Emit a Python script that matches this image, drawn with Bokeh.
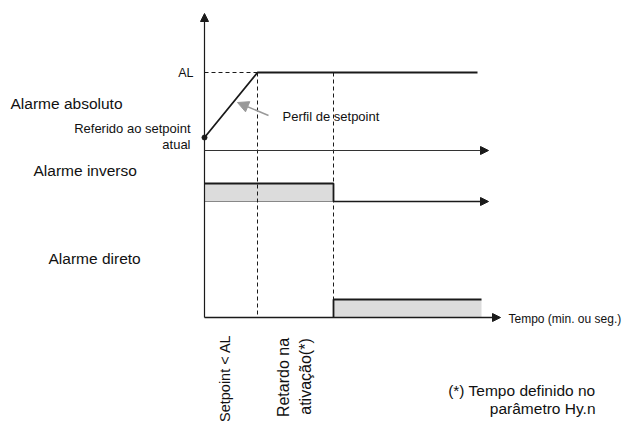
import math
from bokeh.plotting import figure
from bokeh.models import Range1d, Arrow, NormalHead, Label
from bokeh.embed import file_html
from bokeh.resources import INLINE

# ---- diagram data (x = time units from origin, y = level units above time axis) ----
sp_time = [0, 53, 273]          # setpoint profile: start, reaches AL, end
sp_level = [180, 245, 245]      # referred to current setpoint -> AL
al_level = 245
t_reach = 53                    # setpoint reaches AL
t_delay = 129                   # end of activation delay (Hy.n)

abs_axis_level = 167
abs_axis_end = 284

inv_time = [0, 129, 129]
inv_level = [134, 134, 116]
inv_low = 116
inv_end = 284

dir_time = [129, 129, 277]
dir_level = [0, 18, 18]
dir_box = (129, 277, 0, 18)
time_axis_end = 296
v_axis_top = 304

FONT = "Liberation Sans"

p = figure(width=625, height=421, output_backend="svg", toolbar_location=None,
           x_range=Range1d(-204, 421), y_range=Range1d(-104, 317),
           x_axis_type=None, y_axis_type=None, min_border=0)
p.outline_line_color = None
p.xgrid.visible = False
p.ygrid.visible = False
p.background_fill_color = "white"

BLACK = "#1a1a1a"
GRAY_FILL = "#dcdcdc"

# filled boxes
p.quad(left=[inv_time[0]], right=[inv_time[1]], bottom=[inv_low], top=[inv_level[0]],
       fill_color=GRAY_FILL, line_color=None)
p.quad(left=[dir_box[0]], right=[dir_box[1]], bottom=[dir_box[2]], top=[dir_box[3]],
       fill_color=GRAY_FILL, line_color=None)
# thin bottom of inverse box
p.line([inv_time[0], inv_time[1]], [inv_low, inv_low], line_color="#888888", line_width=1)

# dashed guides
p.segment(x0=[0], y0=[al_level], x1=[t_reach], y1=[al_level], line_color=BLACK,
          line_width=1, line_dash="4 3")
p.segment(x0=[t_reach, t_delay], y0=[al_level, al_level], x1=[t_reach, t_delay],
          y1=[0, dir_level[1]], line_color=BLACK, line_width=1, line_dash="4 3")

# vertical axis
p.add_layout(Arrow(x_start=0, y_start=0, x_end=0, y_end=v_axis_top, line_color=BLACK,
                   line_width=1.2,
                   end=NormalHead(size=8, fill_color=BLACK, line_color=BLACK)))
# absolute alarm time axis
p.add_layout(Arrow(x_start=0, y_start=abs_axis_level, x_end=abs_axis_end, y_end=abs_axis_level,
                   line_color="#333333", line_width=1,
                   end=NormalHead(size=8, fill_color=BLACK, line_color=BLACK)))
# inverse alarm signal
p.line(inv_time, inv_level, line_color=BLACK, line_width=1.8)
p.add_layout(Arrow(x_start=inv_time[-1], y_start=inv_low, x_end=inv_end, y_end=inv_low,
                   line_color=BLACK, line_width=1.5,
                   end=NormalHead(size=8, fill_color=BLACK, line_color=BLACK)))
# direct alarm: time axis and signal
p.add_layout(Arrow(x_start=0, y_start=0, x_end=time_axis_end, y_end=0,
                   line_color=BLACK, line_width=1.5,
                   end=NormalHead(size=8, fill_color=BLACK, line_color=BLACK)))
p.line(dir_time, dir_level, line_color=BLACK, line_width=1.8)

# setpoint profile
p.line(sp_time, sp_level, line_color=BLACK, line_width=1.8)
p.scatter([sp_time[0]], [sp_level[0]], size=5, color=BLACK)

# gray pointer arrow
p.add_layout(Arrow(x_start=64, y_start=202, x_end=33, y_end=215,
                   line_color="#999999", line_width=1.5,
                   end=NormalHead(size=11, fill_color="#999999", line_color="#999999")))

def lab(text, x, y, size, align="left", angle=0.0):
    p.add_layout(Label(x=x - 204, y=317 - y, text=text, text_font=FONT,
                       text_font_size=size, text_align=align, text_baseline="middle",
                       text_color="#111111", angle=angle))

lab("AL", 193, 72, "12.5px", "right")
lab("Alarme absoluto", 10, 103, "15.5px")
lab("Referido ao setpoint", 190, 128, "13px", "right")
lab("atual", 190, 144, "13px", "right")
lab("Perfil de setpoint", 282, 116, "13px")
lab("Alarme inverso", 33, 170, "15.5px")
lab("Alarme direto", 48, 258, "15.5px")
lab("Tempo (min. ou seg.)", 508, 318, "12px")
lab("Setpoint <  AL", 224, 330, "14.5px", "right", math.pi / 2)
lab("Retardo na", 283, 377, "16px", "center", math.pi / 2)
lab("ativação(*)", 305, 376, "16px", "center", math.pi / 2)
lab("(*) Tempo definido no", 595, 390, "15.5px", "right")
lab("parâmetro Hy.n", 595, 408, "15.5px", "right")

open("out.html", "w").write(file_html(p, INLINE))
